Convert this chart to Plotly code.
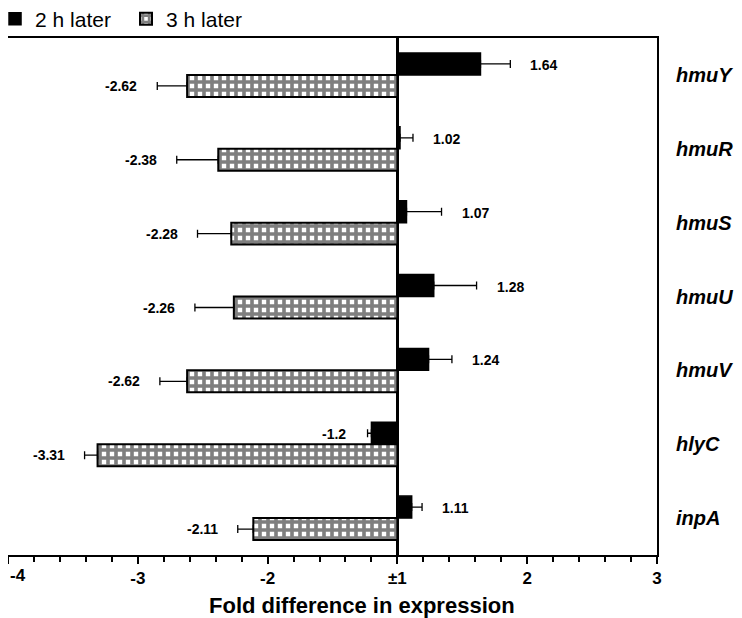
import plotly.graph_objects as go

genes = ["hmuY", "hmuR", "hmuS", "hmuU", "hmuV", "hlyC", "inpA"]
fold_2h = [1.64, 1.02, 1.07, 1.28, 1.24, -1.2, 1.11]
fold_3h = [-2.62, -2.38, -2.28, -2.26, -2.62, -3.31, -2.11]
err_2h = [0.23, 0.10, 0.27, 0.33, 0.18, 0.03, 0.08]
err_3h = [0.23, 0.32, 0.26, 0.30, 0.21, 0.10, 0.12]

tick_vals = [-3, -2, -1, 0, 1, 2]
tick_text = ["-4", "-3", "-2", "±1", "2", "3"]


def to_axis(f):
    # fold change +/-1 sits at zero on the axis
    return f - 1 if f > 0 else f + 1


x_2h = [to_axis(v) for v in fold_2h]
x_3h = [to_axis(v) for v in fold_3h]

# error bars only drawn on the outer side of each bar
plus_2h = [e if x >= 0 else 0 for x, e in zip(x_2h, err_2h)]
minus_2h = [0 if x >= 0 else e for x, e in zip(x_2h, err_2h)]

fig = go.Figure()

fig.add_trace(
    go.Bar(
        y=genes,
        x=x_2h,
        orientation="h",
        name="2 h later",
        marker=dict(color="black", line=dict(color="black", width=1.5)),
        error_x=dict(
            type="data",
            symmetric=False,
            array=plus_2h,
            arrayminus=minus_2h,
            color="black",
            thickness=1.3,
            width=4,
        ),
    )
)

fig.add_trace(
    go.Bar(
        y=genes,
        x=x_3h,
        orientation="h",
        name="3 h later",
        marker=dict(
            color="white",
            line=dict(color="black", width=2),
            pattern=dict(shape="+", fgcolor="black", bgcolor="white", size=8, solidity=0.7),
        ),
        error_x=dict(
            type="data",
            symmetric=False,
            array=[0] * len(err_3h),
            arrayminus=err_3h,
            color="black",
            thickness=1.3,
            width=4,
        ),
    )
)

label_font = dict(size=14, color="black", family="Liberation Sans", weight="bold")
tick_font = dict(size=17, color="black", family="Liberation Sans", weight="bold")
annotations = []
for g, x, e, f in zip(genes, x_2h, err_2h, fold_2h):
    right = x >= 0
    annotations.append(
        dict(
            x=x + e if right else x - e,
            y=g,
            text=f"{f:g}",
            xanchor="left" if right else "right",
            xshift=18 if right else -20,
            yshift=10,
            showarrow=False,
            font=label_font,
        )
    )
for g, x, e, f in zip(genes, x_3h, err_3h, fold_3h):
    annotations.append(
        dict(
            x=x - e,
            y=g,
            text=f"{f:g}",
            xanchor="right",
            xshift=-18,
            yshift=-11,
            showarrow=False,
            font=label_font,
        )
    )

# leftmost tick label sits flush with the left edge
annotations.append(
    dict(
        x=tick_vals[0],
        y=0,
        xref="x",
        yref="paper",
        xanchor="left",
        yanchor="top",
        yshift=-9,
        text=tick_text[0],
        showarrow=False,
        font=tick_font,
    )
)

annotations.append(
    dict(
        x=0.545,
        y=-0.097,
        xref="paper",
        yref="paper",
        yanchor="middle",
        text="Fold difference in expression",
        showarrow=False,
        font=dict(size=22, color="black", family="Liberation Sans", weight="bold"),
    )
)

# the page body adds 8px around the figure, so the figure is 8px smaller
fig.update_layout(
    width=734,
    height=610,
    margin=dict(l=0, r=85, t=30, b=63, autoexpand=False),
    paper_bgcolor="white",
    plot_bgcolor="white",
    barmode="group",
    bargap=0.405,
    bargroupgap=0,
    font=dict(family="Liberation Sans", color="black"),
    showlegend=True,
    legend=dict(
        orientation="h",
        x=-0.02,
        y=1.076,
        xanchor="left",
        yanchor="top",
        font=dict(size=21, color="black"),
        itemwidth=30,
        entrywidth=86,
        entrywidthmode="pixels",
        tracegroupgap=0,
        bgcolor="rgba(0,0,0,0)",
    ),
    annotations=annotations,
    xaxis=dict(
        range=[-3, 2],
        automargin=False,
        tickvals=tick_vals,
        ticktext=[""] + tick_text[1:],
        ticks="outside",
        ticklen=7,
        tickwidth=2,
        tickcolor="black",
        tickfont=tick_font,
        minor=dict(dtick=0.2, ticks="outside", ticklen=5, tickwidth=2, tickcolor="black"),
        showline=True,
        linecolor="black",
        linewidth=2,
        mirror=True,
        showgrid=False,
        zeroline=True,
        zerolinecolor="black",
        zerolinewidth=2.5,
    ),
    yaxis=dict(
        autorange="reversed",
        automargin=False,
        side="right",
        ticks="",
        ticklabelstandoff=13,
        tickfont=dict(size=20, color="black", family="Liberation Sans", weight="bold", style="italic"),
        showline=True,
        linecolor="black",
        linewidth=2,
        mirror=True,
        showgrid=False,
    ),
)

fig.write_html("out.html")
